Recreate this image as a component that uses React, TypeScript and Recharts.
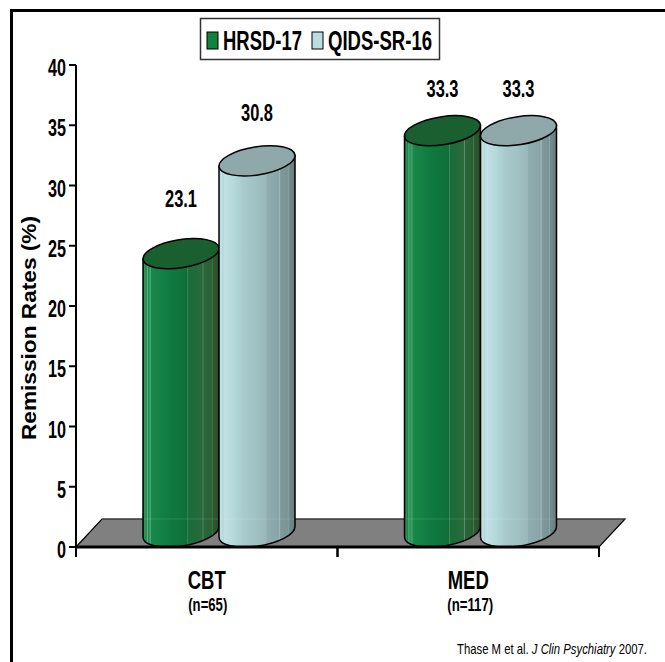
import { BarChart, Bar, XAxis, YAxis, Legend, LabelList, ReferenceArea } from 'recharts';

const categories = ['CBT', 'MED'];
const sampleSizes = ['(n=65)', '(n=117)'];
const hrsdValues = [23.1, 33.3];
const qidsValues = [30.8, 33.3];
const yTicks = [0, 5, 10, 15, 20, 25, 30, 35, 40];

const chartData = categories.map((name, i) => ({
  name,
  sample: sampleSizes[i],
  'HRSD-17': hrsdValues[i],
  'QIDS-SR-16': qidsValues[i]
}));

const FONT = '"Liberation Sans", Arial, sans-serif';
const BAR_WIDTH = 76;
const BAND = 261.5;
// 3D look: cylinders sit back from the baseline and to the right of their slot
const SHIFT_X = 12;
const SHIFT_Y = 15;
const TILT = -9;
const FLOOR_DX = 26;
const FLOOR_DY = 28;

// vertical shading bands [offset %, colour]
const greenStops: [number, string][] = [
  [0, '#0c5a2e'], [2, '#2f9a5c'], [4, '#1a8547'], [6, '#57b07f'], [7, '#1d8a4c'], [10, '#4aa873'],
  [11, '#1b874a'], [25, '#138045'], [40, '#0f773e'], [58, '#0f6f3a'], [59, '#4c8f63'], [60, '#186d3a'],
  [70, '#236a3b'], [78, '#2a6a3c'], [79, '#5b9170'], [80, '#2a663a'], [90, '#2b5f35'], [91, '#4c7a55'],
  [92, '#2c5a30'], [100, '#2a4d27']
];
const lightStops: [number, string][] = [
  [0, '#a5cfd6'], [3, '#c4e6ea'], [5, '#aed5da'], [7, '#c2e2e5'], [20, '#b5d8da'], [32, '#a9cbcd'],
  [50, '#a0c0c2'], [62, '#9ab7b9'], [63, '#8fadaf'], [78, '#88a4a6'], [80, '#a0b8ba'], [81, '#7f9a9c'],
  [90, '#7a9293'], [91, '#95a9aa'], [92, '#748b8c'], [100, '#667b7c']
];

const lidColors: Record<string, string> = {
  'HRSD-17': '#1a5f30',
  'QIDS-SR-16': '#8fa8aa'
};
const bodyGradients: Record<string, string> = {
  'HRSD-17': 'url(#greenBody)',
  'QIDS-SR-16': 'url(#lightBody)'
};
// how far above the lid each value label's baseline sits
const labelLift: Record<string, number[]> = {
  'HRSD-17': [46.5, 34],
  'QIDS-SR-16': [40, 34]
};

function FitText({ x, y, size, length, children, anchor = 'start', bold = true, transform }: any) {
  return (
    <text
      x={x}
      y={y}
      fontFamily={FONT}
      fontSize={size}
      fontWeight={bold ? 'bold' : 'normal'}
      fill="#000"
      textAnchor={anchor}
      textLength={length}
      lengthAdjust="spacingAndGlyphs"
      transform={transform}
    >
      {children}
    </text>
  );
}

function Cylinder({ x, y, width, height, seriesName }: any) {
  const cx = x + width / 2 + SHIFT_X;
  const topY = y - SHIFT_Y;
  const bottomY = y + height - SHIFT_Y;
  const ry = 14;
  const th = (TILT * Math.PI) / 180;
  const extent = width / 2;
  // rx chosen so the tilted ellipse spans exactly the bar width
  const rx = Math.sqrt((extent * extent - ry * ry * Math.sin(th) ** 2) / Math.cos(th) ** 2);
  // height of the left and right tangent points relative to the ellipse centre
  const sideDy = ((rx * rx - ry * ry) * Math.sin(th) * Math.cos(th)) / extent;
  const left = cx - extent;
  const right = cx + extent;
  const body = [
    `M${left},${topY - sideDy}`,
    `L${left},${bottomY - sideDy}`,
    `A${rx},${ry} ${TILT} 0 0 ${right},${bottomY + sideDy}`,
    `L${right},${topY + sideDy}`,
    'Z'
  ].join(' ');
  return (
    <g>
      <path d={body} fill={bodyGradients[seriesName]} stroke="#000" strokeWidth={1.5} />
      <line x1={left + 1} x2={right - 1} y1={y + height - FLOOR_DY} y2={y + height - FLOOR_DY} stroke="#fff" strokeOpacity={0.12} />
      <ellipse
        cx={cx}
        cy={topY}
        rx={rx}
        ry={ry}
        transform={`rotate(${TILT} ${cx} ${topY})`}
        fill={lidColors[seriesName]}
        stroke="#000"
        strokeWidth={1.5}
      />
    </g>
  );
}

function Floor({ x, y, width, height }: any) {
  const bottom = y + height;
  const d = `M${x},${bottom} L${x + FLOOR_DX},${bottom - FLOOR_DY} H${x + width + FLOOR_DX} L${x + width},${bottom} Z`;
  return (
    <g>
      <path d={d} fill="#808080" stroke="#000" strokeWidth={1.2} />
      <line x1={x + FLOOR_DX} x2={x + width + FLOOR_DX} y1={bottom - FLOOR_DY} y2={bottom - FLOOR_DY} stroke="#555" strokeWidth={1} />
    </g>
  );
}

function ValueLabel({ x, y, width, value, index, seriesName }: any) {
  const lid = y - SHIFT_Y;
  return (
    <FitText
      x={x + width / 2 + SHIFT_X}
      y={lid - labelLift[seriesName][index]}
      size={24}
      length={32}
      anchor="middle"
    >
      {value.toFixed(1)}
    </FitText>
  );
}

function CategoryTick({ x, y, index, payload }: any) {
  const widths = [38, 41];
  const sampleWidths = [39, 46];
  return (
    <g>
      <line x1={x - BAND / 2} x2={x - BAND / 2} y1={y - 8} y2={y + 2} stroke="#000" strokeWidth={2} />
      <line x1={x + BAND / 2} x2={x + BAND / 2} y1={y - 8} y2={y + 2} stroke="#000" strokeWidth={2} />
      <FitText x={x} y={589} size={26} length={widths[index]} anchor="middle">{payload.value}</FitText>
      <FitText x={x + (index ? 2 : 1)} y={611} size={17.5} length={sampleWidths[index]} anchor="middle">{sampleSizes[index]}</FitText>
    </g>
  );
}

function ValueTick({ y, payload }: any) {
  return (
    <FitText x={66} y={y + 11} size={23} length={payload.value < 10 ? 9 : 18} anchor="end">
      {payload.value}
    </FitText>
  );
}

function ChartLegend({ payload }: any) {
  const layout = [
    { swatch: 7, text: 23, length: 79 },
    { swatch: 112, text: 128, length: 104 }
  ];
  return (
    <svg width={240} height={42} style={{ position: 'absolute', left: 0, top: 0, overflow: 'visible' }}>
      <rect x={0.5} y={0.5} width={239} height={41} fill="#fff" stroke="#333" strokeWidth={1.5} />
      {(payload || []).map((entry: any, i: number) => (
        <g key={entry.value}>
          <rect x={layout[i].swatch} y={14} width={11} height={17} fill={entry.color} stroke="#000" strokeWidth={1} />
          <FitText x={layout[i].text} y={32} size={27} length={layout[i].length}>{entry.value}</FitText>
        </g>
      ))}
    </svg>
  );
}

export default function App() {
  return (
    <div style={{ position: 'absolute', left: 0, top: 0, width: 665, height: 662, background: '#fff', overflow: 'hidden' }}>
      <div style={{ position: 'absolute', left: 10, top: 9, right: 0, bottom: 0, borderTop: '3px solid #000', borderLeft: '3px solid #000' }} />
      <BarChart
        width={665}
        height={662}
        data={chartData}
        barSize={BAR_WIDTH}
        barGap={0}
        margin={{ top: 65, right: 66, bottom: 0, left: 0 }}
        style={{ position: 'absolute', left: 0, top: 0 }}
      >
        <defs>
          <linearGradient id="greenBody" x1="0" y1="0" x2="1" y2="0">
            {greenStops.map(([o, c]) => <stop key={o} offset={`${o}%`} stopColor={c} />)}
          </linearGradient>
          <linearGradient id="lightBody" x1="0" y1="0" x2="1" y2="0">
            {lightStops.map(([o, c]) => <stop key={o} offset={`${o}%`} stopColor={c} />)}
          </linearGradient>
        </defs>
        <ReferenceArea ifOverflow="visible" y1={0} y2={40} shape={(p: any) => <Floor {...p} />} />
        <XAxis
          dataKey="name"
          height={115}
          interval={0}
          axisLine={{ stroke: '#000', strokeWidth: 3 }}
          tickLine={false}
          tick={(p: any) => <CategoryTick {...p} />}
        />
        <YAxis
          width={76}
          domain={[0, 40]}
          ticks={yTicks}
          interval={0}
          tickSize={7}
          axisLine={{ stroke: '#000', strokeWidth: 2 }}
          tickLine={{ stroke: '#000', strokeWidth: 2 }}
          tick={(p: any) => <ValueTick {...p} />}
        />
        <Legend
          verticalAlign="top"
          align="left"
          content={(p: any) => <ChartLegend {...p} />}
          wrapperStyle={{ position: 'absolute', left: 200, top: 18, width: 0, height: 0 }}
        />
        <Bar
          dataKey="HRSD-17"
          fill="#12823f"
          isAnimationActive={false}
          shape={(p: any) => <Cylinder {...p} seriesName="HRSD-17" />}
        >
          <LabelList dataKey="HRSD-17" content={(p: any) => <ValueLabel {...p} seriesName="HRSD-17" />} />
        </Bar>
        <Bar
          dataKey="QIDS-SR-16"
          fill="#b9dde0"
          isAnimationActive={false}
          shape={(p: any) => <Cylinder {...p} seriesName="QIDS-SR-16" />}
        >
          <LabelList dataKey="QIDS-SR-16" content={(p: any) => <ValueLabel {...p} seriesName="QIDS-SR-16" />} />
        </Bar>
        <FitText x={36} y={440} size={21} length={224} transform="rotate(-90 36 440)">
          Remission Rates (%)
        </FitText>
        <text
          fontFamily={FONT}
          fontSize={15}
          fill="#000"
          transform="translate(457 654) scale(0.755 1)"
        >
          Thase M et al. <tspan fontStyle="italic">J Clin Psychiatry</tspan> 2007.
        </text>
      </BarChart>
    </div>
  );
}
